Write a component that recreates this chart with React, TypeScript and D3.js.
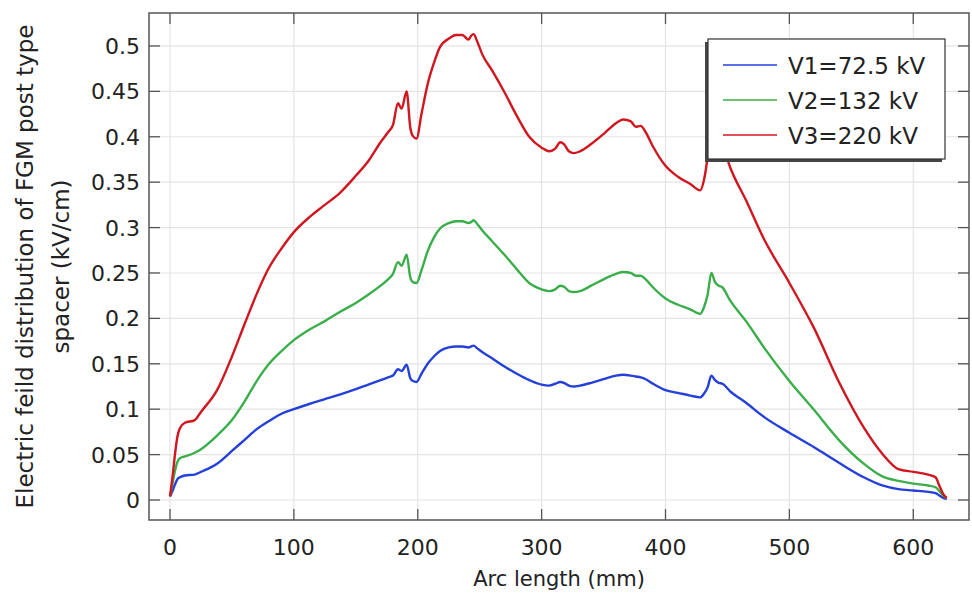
import React from "react";
import * as d3 from "d3";

const arcLength = [0, 2, 4, 6, 8, 12, 20, 25, 38, 50, 60, 70, 80, 90, 100, 113, 125, 137, 150, 160, 170, 176, 180, 184, 187, 191, 194, 196, 199, 203, 208, 213, 218, 225, 231, 236, 241, 243, 245, 248, 252, 260, 270, 280, 290, 300, 306, 311, 315, 318, 322, 326, 331, 340, 350, 360, 366, 372, 376, 380, 384, 390, 400, 410, 420, 428, 431, 434, 437, 440, 443, 446, 452, 465, 480, 500, 520, 540, 560, 575, 588, 600, 612, 618, 621, 624, 627];

const v3Values = [0.004, 0.025, 0.05, 0.07, 0.079, 0.085, 0.088, 0.097, 0.121, 0.158, 0.193, 0.227, 0.256, 0.277, 0.295, 0.312, 0.325, 0.338, 0.357, 0.373, 0.394, 0.405, 0.413, 0.437, 0.431, 0.45, 0.41, 0.401, 0.398, 0.425, 0.458, 0.481, 0.499, 0.508, 0.512, 0.512, 0.507, 0.511, 0.513, 0.505, 0.491, 0.473, 0.449, 0.423, 0.4, 0.388, 0.384, 0.387, 0.394, 0.392, 0.384, 0.382, 0.384, 0.392, 0.403, 0.415, 0.419, 0.417, 0.411, 0.412, 0.405, 0.389, 0.368, 0.356, 0.348, 0.341, 0.352, 0.378, 0.417, 0.4, 0.394, 0.391, 0.367, 0.33, 0.286, 0.239, 0.189, 0.13, 0.08, 0.051, 0.034, 0.031, 0.028, 0.025, 0.016, 0.007, 0.002];

const v2Values = [0.004, 0.018, 0.032, 0.042, 0.046, 0.048, 0.052, 0.056, 0.071, 0.088, 0.108, 0.131, 0.15, 0.164, 0.176, 0.188, 0.197, 0.207, 0.217, 0.226, 0.236, 0.243, 0.249, 0.262, 0.258, 0.27, 0.245, 0.24, 0.239, 0.253, 0.274, 0.289, 0.299, 0.305, 0.307, 0.307, 0.305, 0.306, 0.308, 0.304, 0.297, 0.285, 0.27, 0.254, 0.239, 0.232, 0.23, 0.232, 0.236, 0.235, 0.23, 0.229, 0.23, 0.236, 0.243, 0.249, 0.251, 0.25, 0.247, 0.247, 0.243, 0.234, 0.222, 0.215, 0.21, 0.205, 0.212, 0.226, 0.25, 0.24, 0.236, 0.234, 0.22, 0.197, 0.167, 0.131, 0.099, 0.066, 0.04, 0.026, 0.021, 0.018, 0.016, 0.014, 0.01, 0.005, 0.002];

const v1Values = [0.004, 0.01, 0.017, 0.023, 0.025, 0.027, 0.028, 0.031, 0.04, 0.054, 0.066, 0.078, 0.087, 0.095, 0.1, 0.106, 0.111, 0.116, 0.122, 0.127, 0.132, 0.135, 0.137, 0.144, 0.142, 0.149, 0.134, 0.131, 0.13, 0.139, 0.15, 0.158, 0.164, 0.168, 0.169, 0.169, 0.168, 0.169, 0.17, 0.167, 0.163, 0.156, 0.147, 0.139, 0.132, 0.127, 0.126, 0.128, 0.13, 0.129, 0.126, 0.125, 0.126, 0.129, 0.133, 0.137, 0.138, 0.137, 0.136, 0.135, 0.133, 0.128, 0.121, 0.118, 0.115, 0.113, 0.117, 0.124, 0.137, 0.132, 0.129, 0.128, 0.12, 0.107, 0.091, 0.074, 0.058, 0.041, 0.025, 0.016, 0.012, 0.0105, 0.009, 0.0075, 0.005, 0.0025, 0.001];

const seriesNames = ["V1=72.5 kV", "V2=132 kV", "V3=220 kV"];
const seriesColors = ["#2440d8", "#3aae4a", "#d0161f"];
const xTicks = [0, 100, 200, 300, 400, 500, 600];
const yTicks = [0, 0.05, 0.1, 0.15, 0.2, 0.25, 0.3, 0.35, 0.4, 0.45, 0.5];
const xLabel = "Arc length (mm)";
const yLabelLines = ["Electric feild distribution of FGM post type", "spacer (kV/cm)"];

const W = 972;
const H = 599;
const L = 149, R = 969, T = 13, B = 520;
const FONT = "'DejaVu Sans', sans-serif";

export default function App() {
  const x = d3.scaleLinear().domain([-16.95, 645]).range([L, R]);
  const y = d3.scaleLinear().domain([-0.02203, 0.5363]).range([B, T]);
  const allSeries = [v1Values, v2Values, v3Values];
  const line = d3
    .line<[number, number]>()
    .x((d) => x(d[0]))
    .y((d) => y(d[1]))
    .curve(d3.curveMonotoneX);

  const legX = 708, legY = 39, legW = 237, legH = 120;
  const tickLen = 11;

  return (
    <svg width={W} height={H} style={{ position: "absolute", left: 0, top: 0, background: "#fff" }} fontFamily={FONT}>
      <rect x={0} y={0} width={W} height={H} fill="#fff" />
      {/* grid */}
      {xTicks.map((t) => (
        <line key={"gx" + t} x1={x(t)} x2={x(t)} y1={T} y2={B} stroke="#e4e4e4" strokeWidth={1.2} />
      ))}
      {yTicks.map((t) => (
        <line key={"gy" + t} x1={L} x2={R} y1={y(t)} y2={y(t)} stroke="#e4e4e4" strokeWidth={1.2} />
      ))}
      {/* series */}
      {allSeries.map((vals, i) => (
        <path
          key={"s" + i}
          d={line(arcLength.map((a, j) => [a, vals[j]] as [number, number])) || ""}
          fill="none"
          stroke={seriesColors[i]}
          strokeWidth={2.4}
          strokeLinejoin="round"
        />
      ))}
      {/* frame */}
      <rect x={L} y={T} width={R - L} height={B - T} fill="none" stroke="#555" strokeWidth={1.5} />
      {xTicks.map((t) => (
        <g key={"tx" + t}>
          <line x1={x(t)} x2={x(t)} y1={B} y2={B - tickLen} stroke="#555" strokeWidth={1.3} />
          <line x1={x(t)} x2={x(t)} y1={T} y2={T + tickLen} stroke="#555" strokeWidth={1.3} />
          <text x={x(t)} y={555} textAnchor="middle" fontSize={22} fill="#222">
            {t}
          </text>
        </g>
      ))}
      {yTicks.map((t) => (
        <g key={"ty" + t}>
          <line x1={L} x2={L + tickLen} y1={y(t)} y2={y(t)} stroke="#555" strokeWidth={1.3} />
          <line x1={R} x2={R - tickLen} y1={y(t)} y2={y(t)} stroke="#555" strokeWidth={1.3} />
          <text x={140} y={y(t) + 8} textAnchor="end" fontSize={22} fill="#222">
            {d3.format("~g")(t)}
          </text>
        </g>
      ))}
      {/* axis labels */}
      <text x={(L + R) / 2} y={586} textAnchor="middle" fontSize={21} fill="#222">
        {xLabel}
      </text>
      {yLabelLines.map((s, i) => (
        <text
          key={"yl" + i}
          transform={`translate(${33 + i * 36},${(T + B) / 2}) rotate(-90)`}
          textAnchor="middle"
          fontSize={23}
          fill="#222"
        >
          {s}
        </text>
      ))}
      {/* legend */}
      <rect x={legX - 3} y={legY + 3} width={legW} height={legH} fill="#444" />
      <rect x={legX} y={legY} width={legW} height={legH} fill="#fff" stroke="#333" strokeWidth={1.2} />
      {seriesNames.map((n, i) => {
        const cy = legY + 26 + i * 35;
        return (
          <g key={"lg" + i}>
            <line x1={legX + 15} x2={legX + 69} y1={cy} y2={cy} stroke={seriesColors[i]} strokeWidth={1.6} />
            <text x={legX + 80} y={cy + 8.5} fontSize={23} fill="#222">
              {n}
            </text>
          </g>
        );
      })}
    </svg>
  );
}
